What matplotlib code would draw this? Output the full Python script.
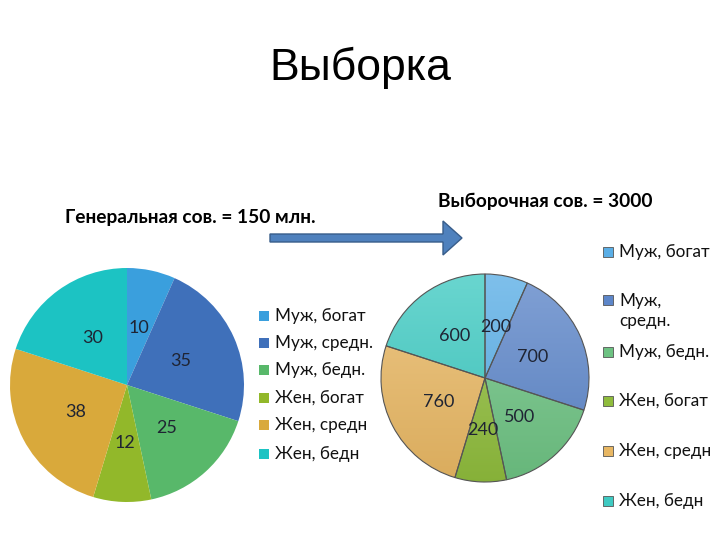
import numpy as np
import matplotlib.pyplot as plt
from matplotlib.colors import to_rgb
from matplotlib.patches import FancyArrow

# data
categories = ['Муж, богат', 'Муж, средн.', 'Муж, бедн.', 'Жен, богат', 'Жен, средн', 'Жен, бедн']
right_labels = ['Муж, богат', 'Муж,\nсредн.', 'Муж, бедн.', 'Жен, богат', 'Жен, средн', 'Жен, бедн']
general_values = [10, 35, 25, 12, 38, 30]
sample_values = [200, 700, 500, 240, 760, 600]

left_colors = ['#3a9fdd', '#3f70ba', '#58b86a', '#92b82a', '#d9a93b', '#1cc3c3']
right_colors = ['#5aaee6', '#5d86c9', '#6dc282', '#8fbc3c', '#e8b763', '#3fcac2']

FONT = 'Lato'

fig = plt.figure(figsize=(7.2, 5.4), dpi=100)

fig.text(0.5, 0.875, 'Выборка', ha='center', va='center', fontsize=32,
         family='Liberation Sans')

fig.text(0.264, 0.598, 'Генеральная сов. = 150 млн.', ha='center', va='center',
         fontsize=13.8, fontweight='bold', family=FONT)
fig.text(0.757, 0.628, 'Выборочная сов. = 3000', ha='center', va='center',
         fontsize=13.8, fontweight='bold', family=FONT)

# arrow between the two titles
arrow = FancyArrow(270 / 720, 1 - 238 / 540, 192 / 720, 0, width=8 / 540,
                   head_width=34 / 540, head_length=19 / 720,
                   length_includes_head=True, transform=fig.transFigure,
                   facecolor='#4f81bd', edgecolor='#385d8a', linewidth=1)
fig.patches.append(arrow)


def draw_pie(rect, values, colors, edge, lw, shade=False):
    ax = fig.add_axes(rect)
    wedges, _ = ax.pie(values, colors=colors, startangle=90, counterclock=False,
                       radius=1, wedgeprops=dict(edgecolor=edge, linewidth=lw))
    if shade:
        # soft top-to-bottom gradient inside each slice
        t = np.linspace(0, 1, 200)[:, None]
        for w, c in zip(wedges, colors):
            rgb = np.array(to_rgb(c))
            light = rgb + (1 - rgb) * 0.22
            dark = rgb * 0.94
            img = (light[None, None, :] * (1 - t[..., None]) + dark[None, None, :] * t[..., None])
            img = np.repeat(img, 2, axis=1)
            im = ax.imshow(img, extent=(-1, 1, -1, 1), origin='upper', zorder=w.get_zorder() + 0.1)
            im.set_clip_path(w)
            w.set_facecolor('none')
            w.set_zorder(w.get_zorder() + 0.2)
    total = sum(values)
    start = 90.0
    for v in values:
        mid = np.deg2rad(start - 360.0 * v / total / 2)
        ax.text(0.5 * np.cos(mid), 0.5 * np.sin(mid), str(v), ha='center',
                va='center', fontsize=13, family=FONT, color='#1f2433', zorder=5)
        start -= 360.0 * v / total
    ax.set_xlim(-1, 1)
    ax.set_ylim(-1, 1)
    ax.set_aspect('equal')
    ax.axis('off')
    return wedges


draw_pie([10 / 720, 38 / 540, 234 / 720, 234 / 540], general_values, left_colors, 'none', 0)
draw_pie([381 / 720, 58 / 540, 208 / 720, 208 / 540], sample_values, right_colors, '#555555', 0.8,
         shade=True)

# left legend
left_y = [316, 343, 370, 398, 425, 454]
for name, c, y in zip(categories, left_colors, left_y):
    fig.patches.append(plt.Rectangle((259 / 720, 1 - (y + 5) / 540), 10 / 720, 10 / 540,
                                     transform=fig.transFigure, facecolor=c,
                                     edgecolor='none'))
    fig.text(275 / 720, 1 - y / 540, name, ha='left', va='center', fontsize=12.3,
             family=FONT, color='#111111')

# right legend
right_y = [252, 311, 352, 401, 451, 501]
for name, c, y in zip(right_labels, right_colors, right_y):
    fig.patches.append(plt.Rectangle((603 / 720, 1 - (y + 5 if '\n' not in name else y - 6) / 540),
                                     10 / 720, 10 / 540, transform=fig.transFigure,
                                     facecolor=c, edgecolor='#555555', linewidth=0.6))
    fig.text(619 / 720, 1 - y / 540, name, ha='left', va='center', fontsize=12.3,
             family=FONT, color='#111111', linespacing=1.35)

fig.savefig('out.png', dpi=100)
